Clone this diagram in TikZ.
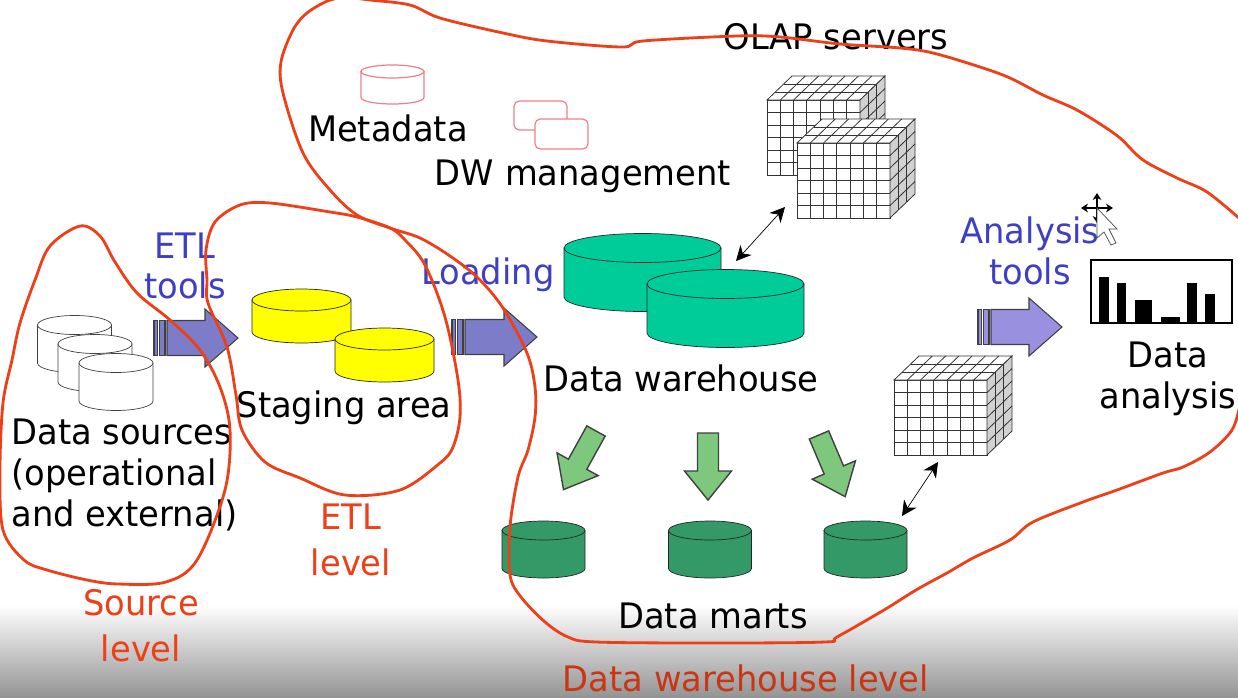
\documentclass[tikz,border=0pt]{standalone}
\usepackage{fontspec}
\setmainfont{DejaVu Sans}[FakeStretch=0.96]
\usetikzlibrary{arrows.meta}

\definecolor{loopred}{HTML}{EE4018}
\definecolor{toolblue}{HTML}{3F3FC4}
\definecolor{stagingyellow}{HTML}{FFFF00}
\definecolor{dwteal}{HTML}{00CC99}
\definecolor{martgreen}{HTML}{339966}
\definecolor{flowgreen}{HTML}{7DC87D}
\definecolor{etlpurple}{HTML}{7C7CC8}
\definecolor{toolpurple}{HTML}{9A90E0}
\definecolor{metared}{HTML}{F08088}

\tikzset{
  lbl/.style={font=\fontsize{20}{23.2}\selectfont, align=center, inner sep=0pt},
  bluelbl/.style={lbl, text=toolblue},
  redlbl/.style={lbl, text=loopred, font=\fontsize{20}{26}\selectfont},
  levelloop/.style={draw=loopred, line width=1.6pt, line join=round},
  flowarrow/.style={draw=black!75, thick, fill=flowgreen, line join=miter},
  linkarrow/.style={line width=0.4pt, {Stealth[length=8.5pt,width=8.5pt]}-{Stealth[length=8.5pt,width=8.5pt]}}
}

% x, y of top ellipse centre, rx, ry, body height, style
\newcommand{\barrel}[6]{
  \path[#6] (#1-#3,#2) -- (#1-#3,#2+#5) arc[start angle=180,end angle=0,x radius=#3,y radius=#4] -- (#1+#3,#2) -- cycle;
  \path[#6] (#1,#2) ellipse[x radius=#3,y radius=#4];
}
% x, y of upper left corner of the front face
\newcommand{\gridcube}[2]{
  \begin{scope}[shift={(#1,#2)}, draw=black!80, line width=0.45pt]
    \draw[fill=white] (0,0) rectangle (93,75);
    \draw[fill=white] (0,0) -- (25,-24) -- (118,-24) -- (93,0) -- cycle;
    \draw[fill=black!18] (93,0) -- (118,-24) -- (118,51) -- (93,75) -- cycle;
    \foreach \i in {1,...,6} {
      \draw (\i*93/7,0) -- (\i*93/7,75);
      \draw (0,\i*12.5) -- (93,\i*12.5);
    }
    \foreach \i in {1,...,6}
    \draw (\i*93/7,0) -- (\i*93/7+25,-24);
    \foreach \i in {1,...,5}
    \draw (93,\i*12.5) -- (118,\i*12.5-24);
    \foreach \j in {1,2} {
      \draw (\j*25/3,-\j*8) -- (\j*25/3+93,-\j*8);
      \draw (93+\j*25/3,-\j*8) -- (93+\j*25/3,75-\j*8);
    }
  \end{scope}
}
% x of the stripes, y of the axis, length to tip, fill
\newcommand{\toolarrow}[4]{
  \draw[black!75, fill=#4, line width=0.6pt] (#1,#2-17.5) rectangle (#1+3.5,#2+17.5);
  \draw[black!75, fill=#4, line width=0.6pt] (#1+5.5,#2-17.5) rectangle (#1+11,#2+17.5);
  \draw[black!75, fill=#4, line width=0.6pt] (#1+13,#2-17.5) -- (#1+#3-33,#2-17.5) -- (#1+#3-33,#2-29) -- (#1+#3,#2)
    -- (#1+#3-33,#2+29) -- (#1+#3-33,#2+17.5) -- (#1+13,#2+17.5) -- cycle;
}

\begin{document}
\begin{tikzpicture}[x=0.02cm,y=-0.02cm]
  \useasboundingbox (0,0) rectangle (1238,697);
  \fill[white] (0,0) rectangle (1238,697);
  \shade[top color=white, bottom color=black!42] (0,605) rectangle (1238,697);

  % data sources
  \foreach \x/\y in {74.5/325, 95/344, 116/363}
  \barrel{\x}{\y}{37}{9.5}{38}{draw=black!75, fill=white};
  % staging area
  \foreach \x/\y in {301.5/300, 384.5/339}
  \barrel{\x}{\y}{49.5}{11}{32}{draw=black!85, fill=stagingyellow};
  % warehouse
  \foreach \x/\y in {642.5/248, 725.5/284}
  \barrel{\x}{\y}{78.5}{14.5}{49}{draw=black!85, fill=dwteal};
  % marts
  \foreach \x in {543.5, 710, 865.5}
  \barrel{\x}{530.5}{41.5}{9.5}{38}{draw=black!85, fill=martgreen};
  % metadata
  \barrel{392.5}{71.5}{31.5}{6.5}{26}{draw=metared, line width=0.7pt, fill=white};
  % dw management
  \draw[metared, line width=0.7pt, fill=white, rounded corners=3pt] (514,101) rectangle (567,130);
  \draw[metared, line width=0.7pt, fill=white, rounded corners=3pt] (535,119) rectangle (588,149);

  % cubes
  \gridcube{767}{100}
  \gridcube{797}{143}
  \gridcube{894}{380}

  % block arrows
  \toolarrow{154}{338}{84}{etlpurple}
  \toolarrow{452}{337}{85}{etlpurple}
  \toolarrow{978}{327}{84}{toolpurple}
  \foreach \tx/\ty/\ang in {596/431/-29, 708/433/0, 819/435/23}
  \draw[flowarrow, shift={(\tx,\ty)}, rotate=\ang] (-10.5,0) -- (10.5,0) -- (10.5,38) -- (23.5,38) -- (0,67) -- (-23.5,38) -- (-10.5,38) -- cycle;

  % chart
  \draw[thick] (1091,260) rectangle (1232,323);
  \foreach \xa/\xb/\ytop in {1099/1109/277, 1117/1126/283, 1135/1152/300, 1161/1180/317, 1187/1197/283, 1205/1215/294}
  \fill (\xa,\ytop) rectangle (\xb,323);

  % links
  \coordinate (olapEnd) at (785,207);
  \coordinate (dwEnd) at (736,261);
  \coordinate (cubeEnd) at (938,462);
  \coordinate (martEnd) at (902,516);
  \draw[linkarrow] (olapEnd) -- (dwEnd);
  \draw[linkarrow] (cubeEnd) -- (martEnd);

  % labels
  \node[lbl] (olap) at (836,37) {OLAP servers};
  \node[lbl] (meta) at (388,128) {Metadata};
  \node[lbl] (mgmt) at (583,176) {DW management};
  \node[lbl] (staging) at (344,408) {Staging area};
  \node[lbl] (dw) at (681,378) {Data warehouse};
  \node[lbl] (marts) at (713,616) {Data marts};
  \node[lbl, align=left, anchor=west] (sources) at (11,475) {Data sources\\(operational\\and external)};
  \node[lbl] (analysis) at (1168,379) {Data\\analysis};
  \node[bluelbl] (etltools) at (185,266) {ETL\\tools};
  \node[bluelbl] (loading) at (488,275) {Loading};
  \node[bluelbl] (antools) at (1030,251) {Analysis\\tools};
  \node[redlbl] (srclevel) at (141,626) {Source\\level};
  \node[redlbl] (etllevel) at (351,540) {ETL\\level};
  \node[redlbl, text=loopred!85!black] (dwlevel) at (746,678) {Data warehouse level};

  % level outlines
  \draw[levelloop] plot[smooth cycle, tension=0.55] coordinates {(80,226) (50,246) (35,280) (20,323) (12,360) (3,403) (0,470) (3,530) (24,560) (47,570) (87,580) (118,584) (166,582) (197,560) (225,490) (230,430) (220,387) (200,350) (170,320) (137,293) (115,262) (100,236)};
  \draw[levelloop] plot[smooth cycle, tension=0.55] coordinates {(240,205) (215,222) (206,250) (207,280) (208,303) (227,347) (236,395) (242,430) (265,462) (300,478) (345,495) (400,490) (440,463) (453,447) (460,417) (458,380) (445,317) (425,265) (405,240) (390,228) (357,217) (330,212) (270,203)};
  \draw[levelloop] plot[smooth, tension=0.55] coordinates {(1240,219) (1207,192) (1177,178) (1143,160) (1120,138) (1097,122) (1073,108) (1043,95) (1010,78) (980,67) (933,53) (900,48) (840,44) (780,37) (737,36) (643,41) (622,47) (547,41) (503,33) (440,18) (410,5) (370,0) (350,-2) (330,0) (307,13) (293,30) (281,62) (283,93) (303,153) (330,190) (357,215) (390,228) (420,238) (450,256) (478,278) (503,308) (527,353) (535,387) (535,417) (528,450) (518,477) (510,527) (510,575) (521,597) (545,622) (568,637) (596,642) (711,643) (825,642) (837,637) (884,610) (916,590) (947,573) (973,558) (1010,540) (1033,522) (1083,502) (1117,490) (1163,473) (1183,467) (1210,452) (1232,430) (1240,405)};

  % pointer
  \draw[black, line width=0.9pt, {Stealth[length=4pt,width=5pt]}-{Stealth[length=4pt,width=5pt]}] (1081,208) -- (1113,208);
  \draw[black, line width=0.9pt, {Stealth[length=4pt,width=5pt]}-{Stealth[length=4pt,width=5pt]}] (1097,193) -- (1097,223);
  \draw[black!70, fill=white, line width=0.4pt] (1097,208) -- (1117,229) -- (1109,229) -- (1116,243) -- (1111,245) -- (1104,232) -- (1097,238) -- cycle;
\end{tikzpicture}
\end{document}
